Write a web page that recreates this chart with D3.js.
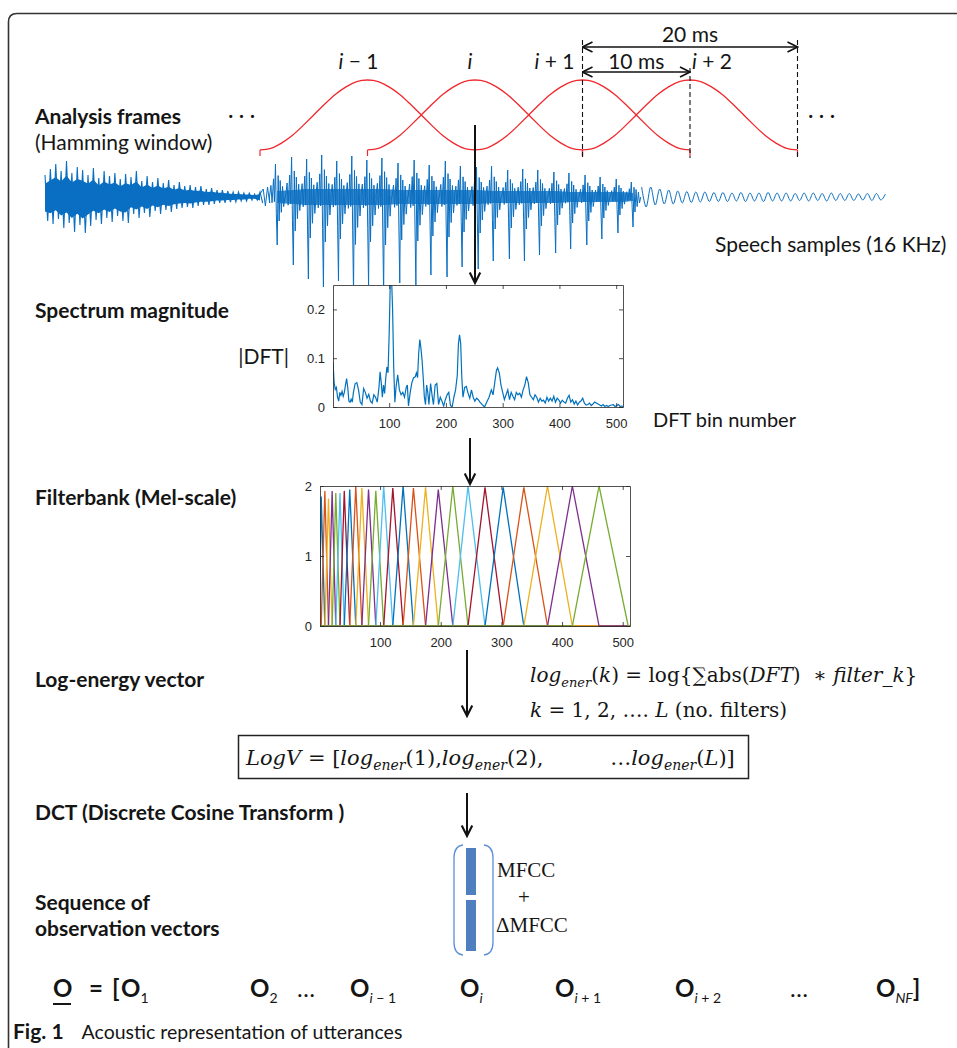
<!DOCTYPE html>
<html>
<head>
<meta charset="utf-8">
<title>Acoustic representation of utterances</title>
<style>
body{margin:0;background:#fff;}
svg{display:block;}
.lbl{font-family:Lato,"Open Sans",sans-serif;font-size:21px;fill:#151515;}
.bold{font-weight:700;}
.ax text{font-family:"Liberation Sans",Arial,sans-serif;font-size:13px;fill:#262626;}
.ax path,.ax line{stroke:#262626;stroke-width:0.8;}
.math{font-family:"DejaVu Serif",serif;font-size:20px;fill:#151515;white-space:pre;}
.seq{font-family:Lato,"Open Sans",sans-serif;font-size:24px;font-weight:700;fill:#151515;white-space:pre;}
</style>
</head>
<body>
<svg width="957" height="1048"></svg>
<script src="https://cdn.jsdelivr.net/npm/d3@7"></script>
<script>

// ---- data ----
// analysis frames (ms), 10 ms shift, 20 ms long
var frameStart = [20, 30, 40, 50];
var frameLen = 20;
var frameNames = ["− 1", "", "+ 1", "+ 2"];
var hamming = [0.08,0.10,0.17,0.27,0.40,0.54,0.68,0.81,0.91,0.98,1.0,0.98,0.91,0.81,0.68,0.54,0.40,0.27,0.17,0.10,0.08];

// speech samples: unvoiced part, envelope every 0.5 ms (0..20 ms)
var noisyTop = [0.22,0.28,0.33,0.26,0.36,0.24,0.30,0.27,0.22,0.29,0.19,0.26,0.21,0.24,0.18,0.23,0.20,0.26,0.16,0.21,0.15,0.19,0.14,0.17,0.12,0.15,0.11,0.12,0.10,0.11,0.08,0.09,0.07,0.07,0.06,0.05,0.05,0.04,0.04,0.03,0.05];
var noisyBot = [-0.24,-0.27,-0.22,-0.31,-0.26,-0.35,-0.28,-0.36,-0.29,-0.23,-0.27,-0.21,-0.25,-0.19,-0.24,-0.26,-0.17,-0.21,-0.16,-0.20,-0.14,-0.17,-0.13,-0.15,-0.12,-0.11,-0.10,-0.11,-0.09,-0.08,-0.08,-0.07,-0.06,-0.06,-0.05,-0.05,-0.04,-0.04,-0.03,-0.03,-0.06];
// voiced part: glottal pulses (ms) with peak up / down
var pulseT = [21.6,23.1,24.5,25.9,27.3,28.7,30.1,31.5,33.0,34.5,35.9,37.4,38.8,40.3,41.7,43.2,44.6,46.0,47.5,48.9,50.4,51.8,53.3,54.7];
var pulseUp = [0.33,0.40,0.38,0.42,0.36,0.41,0.37,0.39,0.34,0.37,0.32,0.36,0.31,0.30,0.31,0.27,0.28,0.27,0.25,0.24,0.22,0.20,0.18,0.15];
var pulseDown = [-0.48,-0.68,-0.82,-0.90,-0.84,-0.95,-0.90,-0.96,-0.86,-0.88,-0.78,-0.80,-0.70,-0.72,-0.64,-0.62,-0.64,-0.58,-0.56,-0.52,-0.48,-0.42,-0.36,-0.30];
var pulseBand = [0.06,0.07,0.08,0.08,0.08,0.08,0.08,0.08,0.07,0.07,0.07,0.07,0.07,0.07,0.06,0.06,0.06,0.06,0.06,0.05,0.05,0.05,0.05,0.04];
// one pulse, [dt ms, share of up, share of down]
var pulseShape = [[-0.72,0,0],[-0.58,0.35,0],[-0.48,0,0.12],[-0.34,0.55,0],[-0.26,0,0.1],[-0.16,1,0],[-0.08,0,0.35],[0,0,1],[0.09,0.65,0],[0.18,0,0.5],[0.28,0.5,0],[0.38,0,0.32],[0.5,0.32,0],[0.6,0,0.2],[0.72,0,0]];
// trailing part, envelope every 1 ms from 55.5 ms
var tailEnv = [0.10,0.08,0.07,0.06,0.055,0.05,0.045,0.045,0.04,0.045,0.04,0.045,0.04,0.04,0.035,0.04,0.035,0.04,0.035,0.035,0.03,0.035,0.03,0.03];

// spectrum magnitude |DFT|
var specBin = [1,3,5,7,9,11,13,15,17,19,21,23,25,27,29,31,33,35,37,40,43,46,49,52,55,58,61,64,67,70,73,76,79,82,84,86,88,90,92,94,96,98,100,102,104,106,108,110,112,115,118,121,124,127,130,132,134,137,140,143,146,148,150,152,154,156,158,160,162,164,166,168,170,173,176,178,181,184,187,190,193,196,199,202,205,208,211,214,217,220,222,224,226,228,230,233,236,239,242,245,248,251,254,257,260,264,268,272,276,280,283,286,289,291,294,297,300,303,306,309,312,315,318,321,324,327,330,333,336,339,342,345,348,351,354,357,360,363,366,369,372,375,378,381,384,387,390,393,396,399,402,405,408,411,414,417,420,423,426,429,432,435,438,441,444,447,450,453,456,459,462,465,468,471,474,477,480,483,486,489,492,495,498,501,504,507,510,512];
var specMag = [0.092,0.05,0.036,0.04,0.02,0.012,0.03,0.024,0.032,0.022,0.03,0.045,0.058,0.04,0.012,0.01,0.016,0.01,0.03,0.048,0.05,0.035,0.01,0.005,0.038,0.03,0.018,0.026,0.012,0.008,0.025,0.02,0.01,0.04,0.072,0.05,0.02,0.045,0.028,0.06,0.082,0.07,0.15,0.26,0.27,0.2,0.08,0.01,0.04,0.066,0.035,0.025,0.03,0.02,0.04,0.045,0.002,0.03,0.05,0.06,0.062,0.07,0.06,0.11,0.138,0.12,0.095,0.06,0.02,0.005,0.045,0.03,0.005,0.048,0.02,0.005,0.045,0.048,0.005,0.02,0.012,0.002,0.015,0.025,0.03,0.003,0.0,0.02,0.035,0.065,0.13,0.148,0.13,0.06,0.02,0.04,0.042,0.028,0.018,0.035,0.02,0.012,0.018,0.015,0.01,0.005,0.0,0.01,0.02,0.035,0.025,0.05,0.075,0.08,0.07,0.045,0.03,0.015,0.025,0.035,0.015,0.03,0.022,0.015,0.03,0.025,0.028,0.02,0.035,0.045,0.062,0.05,0.025,0.02,0.015,0.025,0.02,0.01,0.018,0.012,0.014,0.008,0.02,0.012,0.018,0.012,0.022,0.01,0.018,0.014,0.008,0.014,0.01,0.008,0.018,0.024,0.01,0.015,0.006,0.012,0.004,0.01,0.012,0.018,0.008,0.004,0.005,0.008,0.003,0.006,0.01,0.008,0.006,0.004,0.002,0.005,0.001,0.003,0.001,0.003,0.004,0.005,0.001,0.003,0.005,0.001,0.002,0.001];

// mel filterbank: triangle edges (DFT bins) and peak heights
var melEdges = [0,3,9,15,21,27,34,41,50,60,70,81,93,106,121,138,155,175,196,220,245,273,303,337,376,417,461,509];
var melPeak = [1.85,1.93,1.82,1.93,1.90,1.90,1.93,1.95,2.0,1.97,1.95,1.93,2.0,1.97,2.0,1.97,1.98,1.95,2.0,2.0,1.98,1.98,1.98,2.0,2.0,2.0];
var matlabColors = ["#0072BD","#D95319","#EDB120","#7E2F8E","#77AC30","#4DBEEE","#A2142F"];

var binTicks = [100, 200, 300, 400, 500];
var specTicks = [0, 0.1, 0.2];
var melTicks = [0, 1, 2];

// observation sequence
var seqX = [121, 250, 350, 460, 555, 675, 876];
var seqSub = [["1",""],["2",""],["i"," − 1"],["i",""],["i"," + 1"],["i"," + 2"],["NF",""]];

// ---- drawing ----
var svg = d3.select("svg");
svg.append("rect").attr("width",957).attr("height",1048).attr("fill","#fff");

// panel frame
svg.append("path")
  .attr("d","M8.5,1050 L8.5,22 Q8.5,13.5 17,13.5 L960,13.5")
  .attr("fill","none").attr("stroke","#333").attr("stroke-width",1.6);

var defs = svg.append("defs");
defs.append("marker").attr("id","vhead")
  .attr("viewBox","0 0 12 12").attr("refX",11).attr("refY",6)
  .attr("markerWidth",12).attr("markerHeight",12).attr("markerUnits","userSpaceOnUse")
  .attr("orient","auto-start-reverse")
  .append("path").attr("d","M1,1 L11,6 L1,11").attr("fill","none").attr("stroke","#111").attr("stroke-width",1.6);
defs.append("marker").attr("id","bhead")
  .attr("viewBox","0 0 12 12").attr("refX",10).attr("refY",6)
  .attr("markerWidth",14).attr("markerHeight",14).attr("markerUnits","userSpaceOnUse")
  .attr("orient","auto")
  .append("path").attr("d","M1,1.5 L10,6 L1,10.5").attr("fill","none").attr("stroke","#111").attr("stroke-width",1.8);

function label(x, y, txt, bold) {
  return svg.append("text").attr("class","lbl" + (bold ? " bold" : "")).attr("x",x).attr("y",y).text(txt);
}

// time axis for frames + speech
var xT = d3.scaleLinear().domain([0, 80]).range([45, 905]);
var yWin = d3.scaleLinear().domain([0, 1]).range([156, 80]);
var yW = d3.scaleLinear().domain([-1, 1]).range([297, 97]);

// speech samples
var wg = svg.append("g");
var waveBlue = "#0a6fc2";
wg.append("path")
  .datum(noisyTop.map(function(v,i){ return [i*0.5, v*0.6, noisyBot[i]*0.6]; }))
  .attr("fill",waveBlue)
  .attr("d", d3.area().x(function(d){return xT(d[0]);}).y0(function(d){return yW(d[2]);}).y1(function(d){return yW(d[1]);}));
var zz = [];
noisyTop.forEach(function(v,i){ zz.push([i*0.5, v]); zz.push([i*0.5+0.25, noisyBot[i]]); });
var wl = d3.line().x(function(d){return xT(d[0]);}).y(function(d){return yW(d[1]);});
wg.append("path").datum(zz).attr("fill","none").attr("stroke",waveBlue).attr("stroke-width",1.1).attr("d",wl);

wg.append("path")
  .datum(pulseT.map(function(t,k){ return [t, pulseBand[k]]; }))
  .attr("fill",waveBlue).attr("opacity",0.8)
  .attr("d", d3.area().curve(d3.curveMonotoneX).x(function(d){return xT(d[0]);}).y0(function(d){return yW(-d[1]);}).y1(function(d){return yW(d[1]);}));
var vz = [[20,0.03],[20.3,0.08],[20.5,-0.09],[20.7,0.1],[20.9,-0.06]];
pulseT.forEach(function(t,k){
  pulseShape.forEach(function(p){ vz.push([t + p[0], p[1]*pulseUp[k] + p[2]*pulseDown[k]]); });
});
wg.append("path").datum(vz).attr("fill","none").attr("stroke",waveBlue).attr("stroke-width",1).attr("d",wl);

var tz = [], sgn = 1;
for (var t = 55.5; t <= 78.5; t += 0.42) {
  tz.push([t, sgn * tailEnv[Math.min(tailEnv.length-1, Math.floor(t - 55.5))]]);
  sgn = -sgn;
}
wg.append("path").datum(tz).attr("fill","none").attr("stroke",waveBlue).attr("stroke-width",1)
  .attr("d", d3.line().curve(d3.curveCardinal).x(function(d){return xT(d[0]);}).y(function(d){return yW(d[1]);}));

label(715, 252, "Speech samples (16 KHz)");

// analysis frames
var winLine = d3.line().curve(d3.curveNatural).x(function(d){return xT(d[0]);}).y(function(d){return yWin(d[1]);});
frameStart.forEach(function(s){
  var pts = hamming.map(function(v,n){ return [s + frameLen*n/(hamming.length-1), v]; });
  svg.append("path").datum(pts).attr("fill","none").attr("stroke","#f0282d").attr("stroke-width",1.3).attr("d",winLine);
  [s, s + frameLen].forEach(function(e){
    svg.append("line").attr("x1",xT(e)).attr("x2",xT(e)).attr("y1",yWin(0.08)).attr("y2",yWin(0))
      .attr("stroke","#f0282d").attr("stroke-width",1.2);
  });
});
var labelShift = [-9, -5, -28, 22];
frameStart.forEach(function(s,k){
  var tx = svg.append("text").attr("class","lbl").attr("x", xT(s + frameLen/2) + labelShift[k]).attr("y",69)
    .attr("text-anchor","middle").style("white-space","pre");
  tx.append("tspan").style("font-style","italic").text("i");
  if (frameNames[k]) tx.append("tspan").text(" " + frameNames[k]);
});
// dashed guides and durations
[[50, 40], [60, 68], [70, 40]].forEach(function(d){
  svg.append("line").attr("x1",xT(d[0])).attr("x2",xT(d[0])).attr("y1",d[1]).attr("y2",158)
    .attr("stroke","#111").attr("stroke-width",1.1).attr("stroke-dasharray","5,3");
});
svg.append("line").attr("x1",xT(50)).attr("x2",xT(70)).attr("y1",47).attr("y2",47)
  .attr("stroke","#111").attr("stroke-width",1.3).attr("marker-start","url(#vhead)").attr("marker-end","url(#vhead)");
svg.append("line").attr("x1",xT(50)).attr("x2",xT(60)).attr("y1",72).attr("y2",72)
  .attr("stroke","#111").attr("stroke-width",1.3).attr("marker-start","url(#vhead)").attr("marker-end","url(#vhead)");
label(xT(60), 42, "20 ms").attr("text-anchor","middle");
label(xT(55), 69, "10 ms").attr("text-anchor","middle");
label(228, 123, "· · ·");
label(808, 123, "· · ·");

label(35, 124, "Analysis frames", true);
label(35, 150, "(Hamming window)");

// main flow arrows
function arrow(x, y1, y2) {
  svg.append("line").attr("x1",x).attr("x2",x).attr("y1",y1).attr("y2",y2)
    .attr("stroke","#111").attr("stroke-width",2).attr("marker-end","url(#bhead)");
}
arrow(xT(40), 125, 283);

// Matlab-like box axes
function matBox(g, x, y, xt, yt, yfmt) {
  var x0 = x.range()[0], x1 = x.range()[1], y0 = y.range()[0], y1 = y.range()[1];
  g.append("g").attr("class","ax").attr("transform","translate(0,"+y0+")")
    .call(d3.axisBottom(x).tickValues(xt).tickSizeInner(-4).tickSizeOuter(0).tickPadding(12));
  g.append("g").attr("class","ax").attr("transform","translate(0,"+y1+")")
    .call(d3.axisTop(x).tickValues(xt).tickSizeInner(-4).tickSizeOuter(0).tickFormat(""));
  g.append("g").attr("class","ax").attr("transform","translate("+x0+",0)")
    .call(d3.axisLeft(y).tickValues(yt).tickSizeInner(-4).tickSizeOuter(0).tickPadding(8).tickFormat(yfmt));
  g.append("g").attr("class","ax").attr("transform","translate("+x1+",0)")
    .call(d3.axisRight(y).tickValues(yt).tickSizeInner(-4).tickSizeOuter(0).tickFormat(""));
}

// spectrum magnitude
var xs = d3.scaleLinear().domain([1, 512]).range([333, 623]);
var ys = d3.scaleLinear().domain([0, 0.25]).range([407, 285]);
var sg = svg.append("g");
defs.append("clipPath").attr("id","clipSpec").append("rect")
  .attr("x",333).attr("y",285).attr("width",290).attr("height",122);
sg.append("rect").attr("x",333).attr("y",285).attr("width",290).attr("height",122).attr("fill","#fff");
sg.append("path").datum(specBin.map(function(b,i){ return [b, specMag[i]]; }))
  .attr("clip-path","url(#clipSpec)")
  .attr("fill","none").attr("stroke","#0072BD").attr("stroke-width",1.2)
  .attr("d", d3.line().x(function(d){return xs(d[0]);}).y(function(d){return ys(d[1]);}));
matBox(sg, xs, ys, binTicks, specTicks, function(d){ return d === 0 ? "0" : d3.format(".1f")(d); });
label(35, 318, "Spectrum magnitude", true);
label(289, 364, "|DFT|").attr("text-anchor","end");
label(653, 427, "DFT bin number").style("font-size","20px");

arrow(470, 438, 484);

// filterbank
var xm = d3.scaleLinear().domain([1, 512]).range([320, 630]);
var ym = d3.scaleLinear().domain([0, 2]).range([626, 486]);
var mg = svg.append("g");
defs.append("clipPath").attr("id","clipMel").append("rect")
  .attr("x",320).attr("y",480).attr("width",310).attr("height",147);
var fl = d3.line().x(function(d){return xm(d[0]);}).y(function(d){return ym(d[1]);});
melPeak.forEach(function(h,k){
  var e0 = melEdges[k], e1 = melEdges[k+1], e2 = melEdges[k+2];
  var pts = [];
  if (e0 > 1) pts.push([1,0]);
  pts.push([e0,0],[e1,h],[e2,0]);
  if (e2 < 512) pts.push([512,0]);
  mg.append("path").datum(pts).attr("clip-path","url(#clipMel)")
    .attr("fill","none").attr("stroke",matlabColors[k % matlabColors.length]).attr("stroke-width",1.3).attr("d",fl);
});
matBox(mg, xm, ym, binTicks, melTicks, d3.format("d"));
label(35, 505, "Filterbank (Mel-scale)", true);

// log energy
arrow(467, 650, 716);
label(35, 687, "Log-energy vector", true);

function mathText(x, y, parts, size, family) {
  var t = svg.append("text").attr("class","math").attr("x",x).attr("y",y).style("font-size",size+"px");
  if (family) t.style("font-family", family);
  var sub = false;
  parts.forEach(function(p){
    var s = t.append("tspan").text(p[0]);
    if (p[1].indexOf("i") >= 0) s.style("font-style","italic");
    if (p[1].indexOf("s") >= 0) {
      s.style("font-size", Math.round(size*0.66)+"px");
      if (!sub) s.attr("dy",5);
      sub = true;
    } else if (sub) { s.attr("dy",-5); sub = false; }
  });
  return t;
}
mathText(530, 682, [["log","i"],["ener","is"],["(","n"],["k","i"],[") = log{∑abs(","n"],["DFT","i"],[")  ∗ ","n"],["filter_k","i"],["}","n"]], 20);
mathText(530, 717, [["k","i"],[" = 1, 2, …. ","n"],["L","i"],[" (no. filters)","n"]], 20);

svg.append("rect").attr("x",238.5).attr("y",735.5).attr("width",510).attr("height",43)
  .attr("fill","none").attr("stroke","#222").attr("stroke-width",1.5);
mathText(246, 765, [["LogV","i"],[" = [","n"],["log","i"],["ener","is"],["(1),","n"],["log","i"],["ener","is"],["(2),          …","n"],["log","i"],["ener","is"],["(","n"],["L","i"],[")]","n"]], 21);

// DCT -> MFCC vector
arrow(467, 793, 836);
label(35, 820, "DCT (Discrete Cosine Transform )", true);
label(35, 910, "Sequence of", true);
label(35, 936, "observation vectors", true);

var br = svg.append("g").attr("fill","none").attr("stroke","#5b8fd6").attr("stroke-width",1.3);
br.append("path").attr("d","M463,845 Q454,846 454,858 L454,942 Q454,954 463,955");
br.append("path").attr("d","M484,845 Q493,846 493,858 L493,942 Q493,954 484,955");
svg.append("rect").attr("x",466).attr("y",848).attr("width",10).attr("height",47).attr("fill","#4f7fbe");
svg.append("rect").attr("x",466).attr("y",900).attr("width",10).attr("height",51).attr("fill","#4f7fbe");
var serif = "'Liberation Serif',serif";
mathText(497, 877, [["MFCC","n"]], 21, serif);
mathText(518, 904, [["+","n"]], 21, serif);
mathText(496, 932, [["ΔMFCC","n"]], 21, serif);

// observation sequence
svg.append("text").attr("class","seq").attr("x",53).attr("y",997).text("O");
svg.append("line").attr("x1",53).attr("x2",71).attr("y1",1004).attr("y2",1004).attr("stroke","#151515").attr("stroke-width",2);
svg.append("text").attr("class","seq").attr("x",89).attr("y",997).text("=");
svg.append("text").attr("class","seq").attr("x",112).attr("y",997).text("[");
seqX.forEach(function(x,k){
  var t = svg.append("text").attr("class","seq").attr("x",x).attr("y",997);
  t.append("tspan").text("O");
  var s = t.append("tspan").attr("dy",6).style("font-size","14px").style("font-weight","400");
  s.append("tspan").style("font-style", /[0-9]/.test(seqSub[k][0]) ? "normal" : "italic").text(seqSub[k][0]);
  if (seqSub[k][1]) s.append("tspan").text(seqSub[k][1]);
  if (k === seqX.length - 1) t.append("tspan").attr("dy",-6).text("]");
});
svg.append("text").attr("class","seq").attr("x",297).attr("y",997).style("font-weight","400").text("…");
svg.append("text").attr("class","seq").attr("x",790).attr("y",997).style("font-weight","400").text("…");

// caption
var cap = svg.append("text").attr("class","lbl").attr("x",13).attr("y",1039).style("font-size","19.5px");
cap.append("tspan").style("font-weight","700").style("font-size","21px").text("Fig. 1");
cap.append("tspan").attr("dx",18).text("Acoustic representation of utterances");

</script>
</body>
</html>
